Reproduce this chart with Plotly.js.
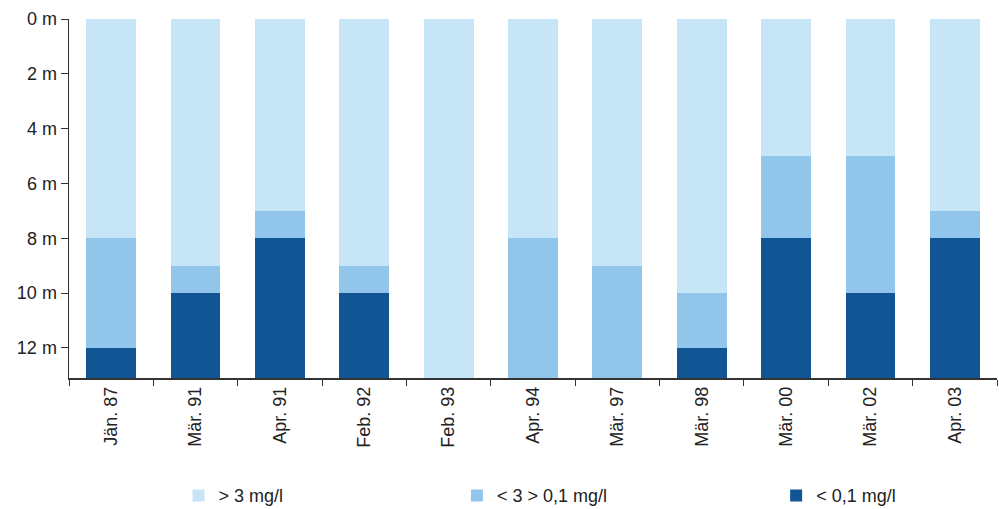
<!DOCTYPE html>
<html>
<head>
<meta charset="utf-8">
<script src="https://cdn.plot.ly/plotly-3.0.1.min.js"></script>
<style>html,body{margin:0;padding:0;background:#fff;}#chart{width:999px;height:509px;}</style>
</head>
<body>
<div id="chart"></div>
<script>
var categories = ["Jän. 87","Mär. 91","Apr. 91","Feb. 92","Feb. 93","Apr. 94","Mär. 97","Mär. 98","Mär. 00","Mär. 02","Apr. 03"];
// layer thicknesses (m), from the surface down
var above3 = [8, 9, 7, 9, 13.1, 8, 9, 10, 5, 5, 7];
var between = [4, 1, 1, 1, 0, 5.1, 4.1, 2, 3, 5, 1];
var below01 = [1.1, 3.1, 5.1, 3.1, 0, 0, 0, 1.1, 5.1, 3.1, 5.1];
var seriesNames = ["> 3 mg/l", "< 3 > 0,1 mg/l", "< 0,1 mg/l"];
var yTicks = [0, 2, 4, 6, 8, 10, 12];

var colors = ["#C6E6F7", "#92C5EA", "#115594"];
var font = {family: "Liberation Sans, Arial, sans-serif", size: 18, color: "#222"};

var data = [above3, between, below01].map(function (vals, i) {
  return {
    type: "bar",
    x: categories,
    y: vals,
    name: seriesNames[i],
    marker: {color: colors[i]},
    legend: i === 0 ? "legend" : "legend" + (i + 1),
    hoverinfo: "x+y+name"
  };
});

function leg(x) {
  return {x: x, y: 0.026, xref: "paper", yref: "container", xanchor: "left", yanchor: "middle",
          font: font, bgcolor: "rgba(0,0,0,0)", itemwidth: 30, orientation: "h"};
}

var layout = {
  width: 999, height: 509,
  margin: {l: 69, r: 2, t: 19, b: 131, autoexpand: false},
  barmode: "stack",
  bargap: 0.41,
  paper_bgcolor: "#fff", plot_bgcolor: "#fff",
  font: font,
  xaxis: {
    type: "category",
    automargin: false,
    tickangle: -90,
    ticks: "outside", ticklen: 6, tickcolor: "#333", tickson: "boundaries",
    showline: true, linecolor: "#333", linewidth: 1.5,
    showgrid: false, zeroline: false,
    tickfont: font
  },
  yaxis: {
    automargin: false,
    autorange: false,
    range: [13.1, 0],
    tickvals: yTicks,
    ticktext: yTicks.map(function (v) { return v + " m"; }),
    ticks: "outside", ticklen: 7, tickcolor: "#333",
    showline: true, linecolor: "#333", linewidth: 1.5,
    showgrid: false, zeroline: false,
    tickfont: font
  },
  legend: leg(0.118),
  legend2: leg(0.418),
  legend3: leg(0.762),
  showlegend: true
};

Plotly.newPlot("chart", data, layout, {displayModeBar: false, staticPlot: true});
</script>
</body>
</html>
